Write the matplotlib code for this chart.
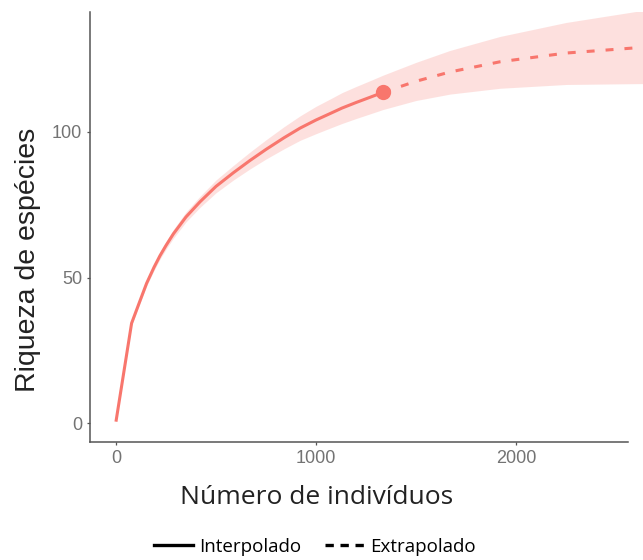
import matplotlib
matplotlib.use("Agg")
import matplotlib.pyplot as plt
from matplotlib.lines import Line2D


# interpolated (rarefaction) part
interp_x = [1, 78, 120, 153, 190, 220, 250, 287, 350, 420, 500, 587, 670, 750,
            840, 920, 1000, 1070, 1130, 1200, 1270, 1335]
interp_y = [1, 34.3, 42, 48, 53.5, 57.5, 61, 65, 70.8, 76, 81.3, 86, 90.2, 94,
            98, 101.3, 104.1, 106.3, 108.2, 110.1, 111.9, 113.6]
interp_lo = [1, 33.6, 41.2, 47.1, 52.4, 56.3, 59.7, 63.5, 69.1, 74.1, 79.1, 83.5,
             87.3, 90.7, 94.2, 97.1, 99.4, 101.3, 102.9, 104.6, 106.2, 107.7]
interp_hi = [1, 35.0, 42.8, 48.9, 54.6, 58.7, 62.3, 66.5, 72.5, 77.9, 83.5, 88.5,
             93.1, 97.3, 101.8, 105.5, 108.8, 111.3, 113.5, 115.6, 117.6, 119.5]

# extrapolated part
extrap_x = [1335, 1500, 1670, 1920, 2250, 2620, 2670]
extrap_y = [113.6, 117.4, 120.6, 124.1, 127.1, 129.0, 129.2]
extrap_lo = [107.7, 110.8, 113.0, 115.0, 116.3, 116.6, 116.6]
extrap_hi = [119.5, 123.9, 128.0, 132.8, 137.6, 141.6, 142.0]

x_ticks = [0, 1000, 2000]
y_ticks = [0, 50, 100]

red = "#F8766D"

fig = plt.figure(figsize=(6.43, 5.6), dpi=100)
ax = fig.add_axes([90 / 643, (560 - 442) / 560, 1 - 90 / 643, (442 - 12) / 560])

band_x = interp_x + extrap_x[1:]
band_lo = interp_lo + extrap_lo[1:]
band_hi = interp_hi + extrap_hi[1:]
ax.fill_between(band_x, band_lo, band_hi, color=red, alpha=0.22, lw=0)

ax.plot(interp_x, interp_y, color=red, lw=2.2, solid_joinstyle="round")
ax.plot(extrap_x, extrap_y, color=red, lw=2.2, ls=(0, (2.6, 3.6)))
ax.plot([interp_x[-1]], [interp_y[-1]], "o", color=red, ms=11, mew=0)

ax.set_xlim(-130, 2635)
ax.set_ylim(-6.5, 141.2)
ax.set_xticks(x_ticks)
ax.set_yticks(y_ticks)

for s in ["top", "right"]:
    ax.spines[s].set_visible(False)
for s in ["left", "bottom"]:
    ax.spines[s].set_color("#555555")
    ax.spines[s].set_linewidth(1.1)
ax.spines["bottom"].set_bounds(-130, 2560)

ax.tick_params(colors="#555555", length=2.5, width=0.9, labelsize=13,
               labelcolor="#737373", pad=3)
for lab in ax.get_xticklabels() + ax.get_yticklabels():
    lab.set_family("Liberation Sans")

ax.set_xlabel("Número de indivíduos", fontsize=19, family="Open Sans",
              color="#222222")
ax.xaxis.set_label_coords((317 - 90) / 553, (442 - 498) / 430)
ax.xaxis.label.set_va("center")
ax.set_ylabel("Riqueza de espécies", fontsize=20.5, family="Liberation Sans",
              color="#222222")
ax.yaxis.set_label_coords((28 - 90) / 553, (442 - 260) / 430)
ax.yaxis.label.set_va("center")

handles = [
    Line2D([], [], color="black", lw=2.4),
    Line2D([], [], color="black", lw=2.4, ls=(0, (2.5, 2.0))),
]
fig.legend(handles, ["Interpolado", "Extrapolado"], loc="center",
           bbox_to_anchor=(315 / 643, 1 - 547 / 560), ncol=2, frameon=False,
           prop={"family": "Open Sans", "size": 13.5}, handlelength=2.1,
           handletextpad=0.3, columnspacing=1.3)

fig.savefig("out.png", dpi=100)
